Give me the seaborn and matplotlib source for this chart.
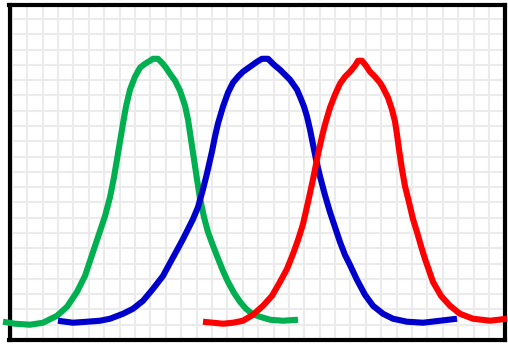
import numpy as np
import pandas as pd
import matplotlib
matplotlib.use("Agg")
import matplotlib.pyplot as plt
import seaborn as sns

# Curve data (x position, height)
green_x = [3, 15, 30, 43, 57, 67, 77, 85, 93, 99, 105, 110, 114, 117, 120, 123, 126, 130, 135, 140, 145, 150, 153,
           158, 162, 166, 170, 175, 180, 185, 188, 191, 194, 197, 200, 204, 208, 212, 217, 223, 228, 234, 240, 246,
           252, 260, 270, 283, 298]
green_y = [21, 19, 18, 20, 27, 36, 51, 67, 91, 109, 127, 146, 166, 184, 202, 220, 237, 254, 267, 276, 280, 283, 285,
           285, 281, 276, 270, 263, 253, 238, 224, 204, 184, 164, 145, 126, 111, 100, 87, 72, 61, 50, 41, 34,
           29, 26, 23, 22, 23]

blue_x = [58, 73, 87, 100, 110, 123, 133, 143, 153, 163, 170, 176, 183, 193, 198, 203, 207, 212, 215, 218, 223, 228,
          233, 238, 243, 250, 257, 262, 268, 274, 280, 285, 290, 297, 300, 304, 307, 310, 313, 316, 320, 325, 330,
          335, 340, 345, 350, 357, 365, 373, 383, 393, 407, 423, 440, 457]
blue_y = [22, 20, 21, 22, 24, 29, 34, 42, 54, 67, 80, 91, 104, 124, 136, 154, 170, 192, 207, 220, 237, 251,
          261, 267, 272, 277, 282, 285, 285, 279, 274, 269, 264, 254, 247, 237, 227, 214, 199, 184, 167, 148, 131,
          116, 101, 88, 78, 63, 48, 37, 29, 24, 21, 20, 22, 24]

red_x = [203, 213, 223, 233, 243, 253, 263, 272, 280, 287, 293, 298, 303, 308, 313, 318, 322, 325, 330, 335, 340,
         345, 350, 355, 358, 362, 366, 370, 375, 380, 383, 388, 392, 395, 397, 399, 402, 405, 409, 413, 417, 421,
         425, 433, 441, 450, 460, 473, 490, 507]
red_y = [21, 20, 19, 20, 22, 28, 37, 47, 61, 74, 89, 103, 119, 141, 164, 189, 207, 219, 236, 249, 260,
         267, 272, 278, 283, 283, 278, 272, 267, 261, 256, 246, 234, 222, 209, 194, 174, 157, 141, 124, 111, 97,
         84, 61, 47, 37, 29, 24, 22, 24]

series = [
    (green_x, green_y, "#00b050"),
    (blue_x, blue_y, "#0000cc"),
    (red_x, red_y, "#ff0000"),
]

sns.set_style("white")
W, H = 508, 344
fig = plt.figure(figsize=(W / 100, H / 100), dpi=100)
ax = fig.add_axes([9.5 / W, 4 / H, (505.3 - 9.5) / W, (340 - 5.3) / H])

for xs, ys, col in series:
    df = pd.DataFrame({"x": xs, "y": ys})
    sns.lineplot(data=df, x="x", y="y", color=col, linewidth=4.4, ax=ax,
                 estimator=None, sort=False, clip_on=False,
                 solid_capstyle="butt", solid_joinstyle="round", zorder=3)

ax.set_xlim(9.5, 505.3)
ax.set_ylim(4, 338.7)
ax.set_xticks(np.arange(11.9, 506, 15.39))
ax.set_yticks(np.arange(2.65, 340, 15.35))
ax.grid(True, color="#ebebeb", linewidth=1.5, zorder=0)
ax.set_axisbelow(True)
ax.tick_params(length=0, labelbottom=False, labelleft=False)
ax.set_xlabel("")
ax.set_ylabel("")
for s in ax.spines.values():
    s.set_visible(True)
    s.set_color("black")
    s.set_linewidth(3)
    s.set_zorder(2)

fig.savefig("out.png", dpi=100)
